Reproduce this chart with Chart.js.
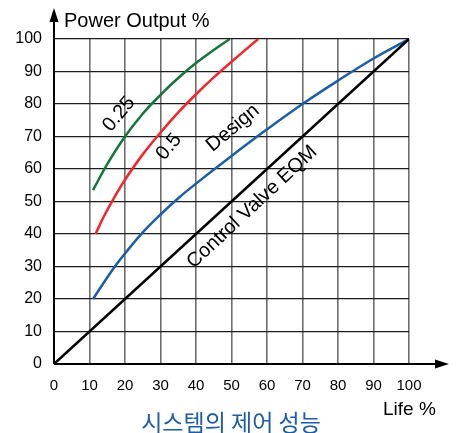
<!DOCTYPE html>
<html>
<head>
<meta charset="utf-8">
<script src="https://cdn.jsdelivr.net/npm/chart.js@4"></script>
<style>
  body { margin: 0; background: #fff; }
  canvas { display: block; }
</style>
</head>
<body>
<canvas id="chart-eqm" width="459" height="433"></canvas>
<script>
  /* ============ DATOS ============ */

  // Life % (x) / Power Output % (y)
  let lifeEqm = [0, 100];
  let powerEqm = [0, 100];

  let lifeDesign = [11, 14, 17, 20, 25, 30, 35, 40, 50, 60, 70, 80, 90, 100];
  let powerDesign = [20, 25, 29.8, 34, 40.5, 46, 51, 55.5, 64, 72.2, 80, 87.2, 94, 100];

  let lifeHalf = [11.7, 14, 17, 20, 25, 30, 35, 40, 45, 50, 57.5];
  let powerHalf = [40, 45.3, 51.3, 56.7, 64.5, 71.2, 77.4, 83, 88.2, 93, 100];

  let lifeQuarter = [11, 15, 20, 25, 30, 35, 40, 45, 49.5];
  let powerQuarter = [53.5, 61.5, 70, 77, 82.8, 88, 92.6, 96.6, 100];

  let curveNames = ["Control Valve EQM", "Design", "0.5", "0.25"];
  let curveColors = ["#000000", "#1b5ea6", "#f2262b", "#13773a"];

  let xTitle = "Life %";
  let yTitle = "Power Output %";
  let chartTitle = "시스템의 제어 성능";

  /* ============ HELPERS ============ */

  let toPoints = (xs, ys) => xs.map((x, i) => ({ x, y: ys[i] }));

  let fontFamily = '"Liberation Sans", Arial, sans-serif';

  // etiquetas sobre las curvas: [valor x, valor y, angulo]
  let curveLabelAnchors = [
    [55.8, 48.3, -43],
    [50.4, 72.6, -40],
    [32.4, 66.8, -50],
    [18.3, 76.9, -50]
  ];

  let decorPlugin = {
    id: "decor",
    beforeDatasetsDraw(chart) {
      let { ctx, chartArea: { left, bottom } } = chart;
      ctx.save();
      ctx.strokeStyle = "#000";
      ctx.fillStyle = "#000";
      ctx.lineWidth = 2;
      // eje y con flecha
      ctx.beginPath();
      ctx.moveTo(left, bottom);
      ctx.lineTo(left, 18);
      ctx.stroke();
      ctx.beginPath();
      ctx.moveTo(left, 8);
      ctx.lineTo(left - 4.5, 22);
      ctx.lineTo(left + 4.5, 22);
      ctx.closePath();
      ctx.fill();
      // eje x con flecha
      ctx.beginPath();
      ctx.moveTo(left, bottom);
      ctx.lineTo(440, bottom);
      ctx.stroke();
      ctx.beginPath();
      ctx.moveTo(449, bottom);
      ctx.lineTo(435, bottom - 4.5);
      ctx.lineTo(435, bottom + 4.5);
      ctx.closePath();
      ctx.fill();
      ctx.restore();
    },
    afterDraw(chart) {
      let { ctx, scales: { x, y } } = chart;
      ctx.save();
      ctx.fillStyle = "#000";
      ctx.textBaseline = "middle";
      ctx.textAlign = "left";
      ctx.font = "20px " + fontFamily;
      ctx.fillText(yTitle, 64, 21);
      ctx.font = "19px " + fontFamily;
      ctx.fillText(xTitle, 383, 410);

      ctx.font = "20px " + fontFamily;
      ctx.textAlign = "center";
      curveNames.forEach((name, i) => {
        let [vx, vy, ang] = curveLabelAnchors[i];
        ctx.save();
        ctx.translate(x.getPixelForValue(vx), y.getPixelForValue(vy));
        ctx.rotate(ang * Math.PI / 180);
        ctx.fillText(name, 0, 0);
        ctx.restore();
      });

      ctx.fillStyle = "#1d5ca6";
      ctx.font = '23px "Noto Sans CJK KR", sans-serif';
      ctx.fillText(chartTitle, 231, 422);
      ctx.restore();
    }
  };

  /* ============ GRAFICO ============ */

  let canvasEqm = document.getElementById("chart-eqm").getContext("2d");

  let eqmChart = new Chart(canvasEqm, {
    type: "scatter",
    data: {
      datasets: [
        { label: curveNames[0], data: toPoints(lifeEqm, powerEqm) },
        { label: curveNames[1], data: toPoints(lifeDesign, powerDesign) },
        { label: curveNames[2], data: toPoints(lifeHalf, powerHalf) },
        { label: curveNames[3], data: toPoints(lifeQuarter, powerQuarter) }
      ].map((ds, i) => ({
        ...ds,
        showLine: true,
        borderColor: curveColors[i],
        backgroundColor: curveColors[i],
        borderWidth: 2.5,
        pointRadius: 0,
        tension: 0.4
      }))
    },
    options: {
      responsive: false,
      animation: false,
      layout: { padding: { left: 0, top: 39, right: 50, bottom: 0 } },
      plugins: { legend: { display: false }, tooltip: { enabled: false } },
      scales: {
        x: {
          type: "linear",
          min: 0,
          max: 100,
          afterFit: (scale) => { scale.height = 69; },
          border: { display: false },
          grid: { color: "#6f6f6f", lineWidth: 1.6, drawTicks: false },
          ticks: { stepSize: 10, padding: 13, color: "#000", font: { family: fontFamily, size: 15 } }
        },
        y: {
          type: "linear",
          min: 0,
          max: 100,
          afterFit: (scale) => { scale.width = 54; },
          border: { display: false },
          grid: { color: "#1e1e1e", lineWidth: 1.2, drawTicks: false },
          ticks: { stepSize: 10, padding: 12, color: "#000", font: { family: fontFamily, size: 16 } }
        }
      }
    },
    plugins: [decorPlugin]
  });
</script>
</body>
</html>
